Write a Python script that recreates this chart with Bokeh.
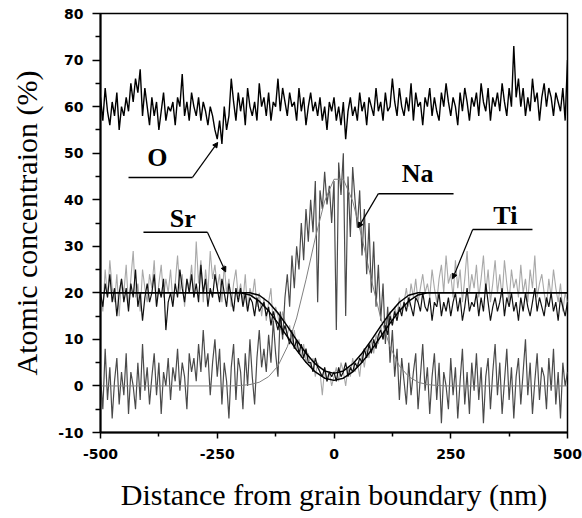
from bokeh.plotting import figure
from bokeh.models import Range1d, FixedTicker, Arrow, NormalHead
from bokeh.core.properties import value
from bokeh.embed import file_html
from bokeh.resources import INLINE

# ---------------- data ----------------
distance_nm = list(range(-500, 505, 5))

oxygen = [
    62, 57, 64, 59, 56, 61, 58, 63, 55, 60,
    58, 62, 59, 65, 61, 66, 63, 68, 58, 64,
    60, 56, 62, 58, 61, 55, 59, 63, 57, 60,
    59, 61, 56, 62, 60, 67, 58, 61, 57, 63,
    60, 58, 62, 57, 61, 59, 56, 60, 58, 55,
    53, 57, 52, 60, 55, 58, 66, 61, 57, 63,
    59, 62, 56, 64, 60, 58, 61, 57, 65, 60,
    62, 58, 63, 57, 61, 60, 66, 59, 64, 61,
    58, 63, 60, 61, 57, 64, 59, 62, 56, 60,
    63, 59, 61, 58, 62, 57, 60, 55, 61, 59,
    62, 57, 60, 56, 61, 53, 59, 62, 58, 60,
    57, 63, 59, 61, 56, 62, 60, 58, 64, 59,
    61, 57, 63, 59, 60, 66, 61, 58, 64, 60,
    58, 62, 59, 65, 57, 63, 60, 61, 56, 62,
    60, 64, 58, 62, 59, 57, 63, 60, 65, 61,
    58, 62, 60, 56, 63, 59, 64, 61, 57, 62,
    60, 63, 58, 65, 61, 59, 64, 57, 62, 60,
    63, 59, 65, 61, 58, 64, 60, 73, 62, 66,
    60, 64, 58, 62, 59, 66, 61, 63, 57, 62,
    65, 60, 64, 62, 58, 63, 61, 59, 64, 57,
    70,
]

strontium = [
    20, 17, 22, 19, 24, 18, 21, 15, 20, 23,
    18, 21, 16, 22, 19, 25, 17, 20, 14, 19,
    22, 18, 20, 24, 17, 21, 19, 23, 12, 18,
    20, 17, 22, 19, 25, 21, 18, 23, 20, 24,
    19, 22, 18, 26, 20, 23, 17, 21, 19, 24,
    21, 18, 23, 20, 17, 22, 19, 16, 21, 18,
    21, 17, 20, 16, 19, 18, 15, 19, 16, 17,
    18, 15, 17, 13, 16, 14, 12, 15, 11, 13,
    11, 9, 12, 8, 10, 7, 9, 6, 8, 5,
    5, 3, 6, 4, 3, 2, 4, 1, 3, 2,
    3, 1, 4, 2, 3, 5, 2, 4, 3, 5,
    4, 6, 5, 8, 6, 9, 7, 10, 8, 11,
    12, 10, 13, 11, 15, 13, 16, 14, 17, 15,
    18, 16, 19, 17, 15, 19, 18, 16, 20, 17,
    16, 19, 14, 18, 17, 20, 15, 18, 16, 19,
    15, 18, 20, 16, 19, 14, 17, 21, 16, 18,
    17, 20, 15, 19, 16, 22, 18, 14, 17, 19,
    16, 18, 21, 15, 19, 17, 20, 16, 18, 14,
    19, 16, 20, 17, 15, 18, 21, 16, 19, 17,
    15, 19, 17, 20, 16, 18, 14, 19, 17, 15,
    18,
]

titanium = [
    22, 16, 25, 19, 27, 21, 18, 24, 15, 23,
    20, 26, 17, 23, 29, 19, 22, 16, 25, 21,
    18, 24, 21, 27, 17, 22, 26, 19, 23, 20,
    25, 18, 22, 28, 20, 24, 17, 23, 21, 26,
    19, 31, 22, 27, 18, 25, 20, 29, 23, 26,
    21, 24, 18, 26, 20, 23, 17, 22, 25, 19,
    22, 18, 24, 16, 21, 19, 23, 17, 20, 15,
    19, 14, 18, 21, 13, 17, 15, 12, 16, 14,
    11, 13, 9, 12, 8, 10, 6, 9, 5, 7,
    4, 6, 2, 5, 3, -2, 4, 1, 3, 0,
    2, 4, 1, 5, 3, 0, 4, 2, 6, 3,
    5, 2, 7, 4, 8, 6, 10, 7, 11, 9,
    13, 10, 14, 12, 16, 13, 17, 15, 19, 16,
    18, 21, 17, 22, 19, 23, 18, 21, 24, 20,
    22, 19, 25, 21, 18, 23, 26, 20, 28, 22,
    24, 19, 27, 21, 25, 18, 23, 29, 20, 24,
    21, 26, 19, 23, 28, 20, 25, 18, 22, 27,
    20, 24, 19, 27, 22, 18, 25, 21, 23, 19,
    26, 20, 23, 18, 25, 21, 28, 19, 22, 24,
    20, 17, 23, 19, 25, 21, 18, 22, 16, 20,
    18,
]

sodium = [
    2, -5, 8, -3, 4, -7, 1, 6, -4, 3,
    -2, 7, -6, 3, 0, -5, 5, -3, 9, -1,
    4, -4, 2, 7, -2, 5, -6, 3, 0, 6,
    -3, 4, 1, 8, -1, 5, 2, -5, 7, 3,
    6, 1, 9, 3, 12, 4, 7, -2, 5, 10,
    2, 8, -4, 5, 1, -7, 4, 9, -3, 6,
    3, -5, 7, 0, 10, 2, -4, 6, 12, 4,
    8, 3, 11, 5, 14, 7, 2, 16, 10, 19,
    24, 17, 28, 21, 30, 25, 35, 27, 38, 31,
    40, 33, 44, 18, 42, 38, 46, 39, 43, 35,
    44, 12, 48, 41, 50, 15, 45, 32, 47, 40,
    34, 42, 28, 38, 24, 35, 20, 31, 17, 26,
    14, 22, 9, 17, 5, 12, 2, 8, -3, 6,
    1, -4, 5, -2, 3, 7, -5, 2, 9, -1,
    4, -6, 2, 7, -3, 5, -8, 3, 0, -5,
    6, -2, 4, -7, 1, 8, -4, 3, -6, 5,
    -1, 7, -3, 4, -8, 2, 6, -5, 3, 9,
    -2, 5, -6, 1, 8, -3, 4, -7, 2, 6,
    -4, 3, 10, -2, 5, -6, 1, 7, -3, 4,
    2, -5, 6, -1, 8, -4, 3, -7, 5, 0,
    3,
]

# fitted profiles
fit_x = [-500, -200, -180, -160, -140, -120, -100, -80, -60, -40, -20, 0,
         20, 40, 60, 80, 100, 120, 140, 160, 180, 200, 500]
sr_fit = [20, 20, 19.54, 18.2, 16.13, 13.5, 10.6, 7.7, 5.07, 3.0, 1.66, 1.2,
          1.66, 3.0, 5.07, 7.7, 10.6, 13.5, 16.13, 18.2, 19.54, 20, 20]
ti_fit = [20, 20, 20, 19.48, 17.98, 15.67, 12.86, 9.85, 7.02, 4.72, 3.22, 2.7,
          3.22, 4.72, 7.02, 9.85, 12.86, 15.67, 17.98, 19.48, 20, 20, 20]
na_fit_x = [-500, -220, -200, -180, -160, -140, -120, -100, -80, -60, -40, -20, 0,
            20, 40, 60, 80, 100, 120, 140, 160, 180, 200, 220, 240, 500]
na_fit = [0, 0, 0.1, 0.3, 0.8, 2.0, 4.3, 8.4, 14.6, 22.8, 31.8, 39.7, 44.4,
          44.4, 39.7, 31.8, 22.8, 14.6, 8.4, 4.3, 2.0, 0.8, 0.3, 0.1, 0, 0]

# annotations
label_text = ["O", "Sr", "Na", "Ti"]
label_x = [-378, -324, 179, 367]
label_y = [49, 36, 45.6, 36.6]
leader_x = [[-440, -303, -249], [-408, -271, -232], [256, 95, 52], [425, 297, 254]]
leader_y = [[44.8, 44.8, 52.3], [33, 33, 24.5], [41.3, 41.3, 34], [33.6, 33.6, 23]]

x_major = [-500, -250, 0, 250, 500]
x_minor = [-375, -125, 125, 375]
y_major = [-10, 0, 10, 20, 30, 40, 50, 60, 70, 80]
y_minor = [-5, 5, 15, 25, 35, 45, 55, 65, 75]

# ---------------- figure ----------------
p = figure(width=582, height=518, output_backend="svg", toolbar_location=None,
           x_range=Range1d(-500, 500), y_range=Range1d(-10, 80),
           min_border_left=100, min_border_right=15, min_border_top=13,
           min_border_bottom=86)
p.background_fill_color = "white"
p.border_fill_color = "white"
p.xgrid.visible = False
p.ygrid.visible = False
p.outline_line_color = "black"
p.outline_line_width = 1.5

p.line(distance_nm, titanium, line_color="#a8a8a8", line_width=1.1)
p.line(distance_nm, sodium, line_color="#4a4a4a", line_width=1.2)
p.line(distance_nm, strontium, line_color="#111111", line_width=1.2)
p.line(distance_nm, oxygen, line_color="black", line_width=1.4)

p.line(na_fit_x, na_fit, line_color="#808080", line_width=1)
p.line(fit_x, sr_fit, line_color="black", line_width=1.5)
p.line(fit_x, ti_fit, line_color="black", line_width=1.5)

for lx, ly in zip(leader_x, leader_y):
    p.line(lx[:2], ly[:2], line_color="black", line_width=1.5)
    p.add_layout(Arrow(end=NormalHead(size=5, fill_color="black", line_color="black"),
                       x_start=lx[1], y_start=ly[1], x_end=lx[2], y_end=ly[2],
                       line_color="black", line_width=1.2))

p.text(label_x, label_y, text=label_text, text_font=value("Liberation Serif"),
       text_font_style="bold", text_font_size="26px", text_align="center",
       text_baseline="middle", text_color="black")

# axes
for ax in (p.xaxis[0], p.yaxis[0]):
    ax.axis_line_color = "black"
    ax.axis_line_width = 2
    ax.major_tick_line_color = "black"
    ax.major_tick_line_width = 1.5
    ax.minor_tick_line_color = "black"
    ax.minor_tick_line_width = 1.5
    ax.major_tick_in = 0
    ax.minor_tick_in = 0
    ax.major_label_text_font = "DejaVu Sans"
    ax.major_label_text_font_style = "bold"
    ax.major_label_text_font_size = "14px"
    ax.major_label_text_color = "black"
    ax.axis_label_text_font = "Liberation Serif"
    ax.axis_label_text_font_style = "normal"
    ax.axis_label_text_font_size = "30px"
    ax.axis_label_text_color = "black"

p.xaxis.ticker = FixedTicker(ticks=x_major, minor_ticks=x_minor)
p.yaxis.ticker = FixedTicker(ticks=y_major, minor_ticks=y_minor)
p.xaxis.major_label_overrides = {t: str(t) for t in x_major}
p.yaxis.major_label_overrides = {t: str(t) for t in y_major}
p.xaxis.major_tick_out = 6
p.xaxis.minor_tick_out = 4
p.yaxis.major_tick_out = 8
p.yaxis.minor_tick_out = 5
p.xaxis.major_label_standoff = 10
p.yaxis.major_label_standoff = 9
p.xaxis.axis_label = "Distance from grain boundary (nm)"
p.yaxis.axis_label = "Atomic concentraion (%)"
p.xaxis.axis_label_standoff = 16
p.yaxis.axis_label_standoff = 12

open("out.html", "w").write(file_html(p, INLINE))
